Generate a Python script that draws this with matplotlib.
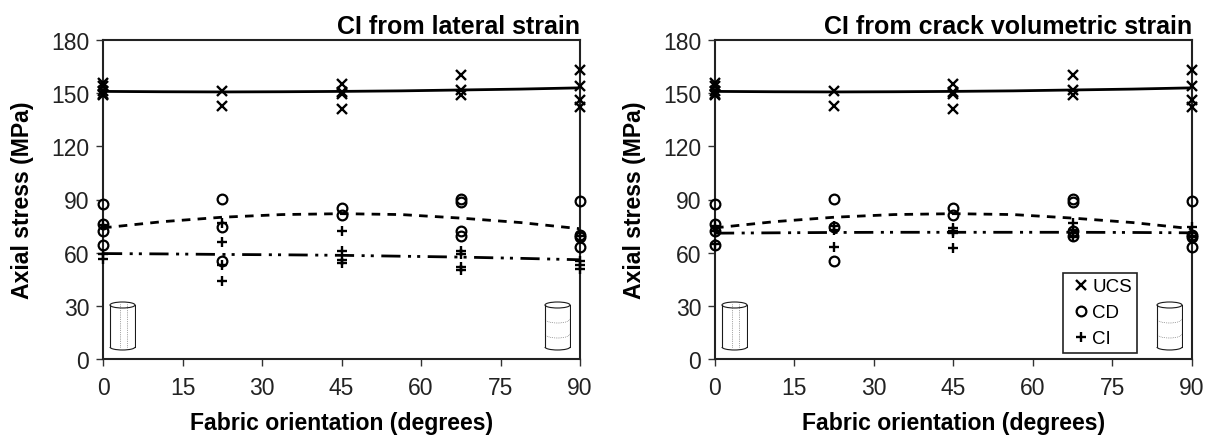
import matplotlib
matplotlib.use("Agg")
import numpy as np
import matplotlib.pyplot as plt
from matplotlib.patches import Ellipse, Arc

plt.rcParams['font.family'] = ['Liberation Sans', 'DejaVu Sans']

W, H = 1216, 439
INK = '#1a1a1a'

ucs_x = [0, 0, 0, 0, 0, 22.5, 22.5, 45, 45, 45, 45, 67.5, 67.5, 67.5, 90, 90, 90, 90]
ucs_y = [156, 154, 151, 149.5, 149, 151, 143, 155, 150.5, 149.5, 141, 160, 152, 149, 163, 154, 146, 142]

cd_x = [0, 0, 0, 0, 22.5, 22.5, 22.5, 45, 45, 67.5, 67.5, 67.5, 67.5, 90, 90, 90, 90]
cd_y = [87.5, 76, 72.5, 64.3, 90.3, 74.7, 55.5, 85, 81.5, 90.3, 88.8, 72.4, 69.2, 89.3, 70, 69, 63]

ci_lat_x = [0, 0, 0, 22.5, 22.5, 22.5, 22.5, 45, 45, 45, 45, 67.5, 67.5, 67.5, 67.5, 90, 90, 90, 90]
ci_lat_y = [75.5, 59, 56.5, 77, 66, 53, 44, 72.5, 61, 56, 54, 61, 59, 52, 50, 55.5, 53, 51, 69.6]

ci_vol_x = [0, 0, 0, 22.5, 22.5, 22.5, 45, 45, 45, 45, 67.5, 67.5, 67.5, 67.5, 90, 90, 90]
ci_vol_y = [75, 72.5, 65, 75, 73, 63, 74, 72.5, 71, 62.5, 77, 73, 71, 69, 74.3, 69.6, 69]

trend_x = [0, 11.25, 22.5, 33.75, 45, 56.25, 67.5, 78.75, 90]
ucs_trend = [151, 150.8, 150.7, 150.8, 151, 151.3, 151.8, 152.3, 153]
cd_trend = [74, 77.5, 80, 81.5, 82, 81.5, 79.5, 77, 73.5]
ci_lat_trend = [59.5, 59.3, 59, 58.8, 58.5, 58, 57.5, 56.8, 56]
ci_vol_trend = [71, 71.2, 71.4, 71.5, 71.5, 71.5, 71.5, 71.4, 71.2]

x_ticks = [0, 15, 30, 45, 60, 75, 90]
y_ticks = [0, 30, 60, 90, 120, 150, 180]

panels = [
    ('CI from lateral strain', 103, 580, ci_lat_x, ci_lat_y, ci_lat_trend),
    ('CI from crack volumetric strain', 715, 1192, ci_vol_x, ci_vol_y, ci_vol_trend),
]


def px_axes(fig, x0, y0, x1, y1):
    """Axes placed by pixel box, y measured from the top of the image."""
    return fig.add_axes([x0 / W, 1 - y1 / H, (x1 - x0) / W, (y1 - y0) / H])


def draw_cylinder(fig, x0, y0, layered=False):
    ax = px_axes(fig, x0, y0, x0 + 27, y0 + 52)
    ax.set_xlim(0, 27)
    ax.set_ylim(52, 0)
    ax.axis('off')
    lw = 0.8
    ax.plot([1, 1], [5, 47], color=INK, lw=lw)
    ax.plot([26, 26], [5, 47], color=INK, lw=lw)
    ax.add_patch(Ellipse((13.5, 5), 25, 6, fc='white', ec=INK, lw=lw))
    ax.add_patch(Arc((13.5, 47), 25, 6, theta1=0, theta2=180, ec=INK, lw=lw))
    if layered:
        for y in (19, 34):
            ax.add_patch(Arc((13.5, y), 25, 8, theta1=0, theta2=180, ec='#555555', lw=0.5, ls=':'))
    else:
        for x in (11, 18):
            ax.plot([x, x], [4, 48], color='#555555', lw=0.5, ls=':')


fig = plt.figure(figsize=(W / 100, H / 100), dpi=100)

for title, x0, x1, ci_x, ci_y, ci_trend in panels:
    ax = px_axes(fig, x0, 41, x1, 360)
    ax.plot(trend_x, ucs_trend, color='k', lw=2, zorder=2)
    ax.plot(trend_x, cd_trend, color='k', lw=2, dashes=(3.1, 2.6), zorder=2)
    ax.plot(trend_x, ci_trend, color='k', lw=2, dashes=(6.9, 2.7, 1.1, 2.2, 1.1, 2.7), zorder=2)
    ax.plot(ucs_x, ucs_y, 'x', color='k', ms=6.5, mew=1.7, clip_on=False, label='UCS', zorder=3)
    ax.plot(cd_x, cd_y, 'o', mfc='none', mec='k', ms=7, mew=1.6, clip_on=False, label='CD', zorder=3)
    ax.plot(ci_x, ci_y, '+', color='k', ms=6.5, mew=1.7, clip_on=False, label='CI', zorder=3)

    ax.set_xlim(0, 90)
    ax.set_ylim(0, 180)
    ax.set_xticks(x_ticks)
    ax.set_yticks(y_ticks)
    ax.tick_params(length=5, width=1, color='#333333', labelsize=16.5, labelcolor='#222222')
    ax.tick_params(axis='y', pad=5)
    ax.tick_params(axis='x', pad=7)
    for spine in ax.spines.values():
        spine.set_linewidth(1.5)
        spine.set_color('#222222')
    ax.set_xlabel('Fabric orientation (degrees)', fontweight='bold', fontsize=16.6, labelpad=9)
    ax.set_ylabel('Axial stress (MPa)', fontweight='bold', fontsize=16.6, labelpad=12)
    ax.text(1, 1.006, title, transform=ax.transAxes, ha='right', va='bottom',
            fontweight='bold', fontsize=18)

    draw_cylinder(fig, x0 + 6, 301)
    draw_cylinder(fig, x1 - 36, 301, layered=True)

    if x0 > 500:
        ax.legend(loc='lower left', bbox_to_anchor=((1063 - x0) / (x1 - x0), 6 / 319),
                  fontsize=13.5, frameon=True, fancybox=False, framealpha=1, edgecolor='#222222',
                  borderaxespad=0, handletextpad=-0.1, labelspacing=0.47, borderpad=0.3,
                  handlelength=1.35).get_frame().set_linewidth(1.2)

fig.savefig('out.png', dpi=100)
